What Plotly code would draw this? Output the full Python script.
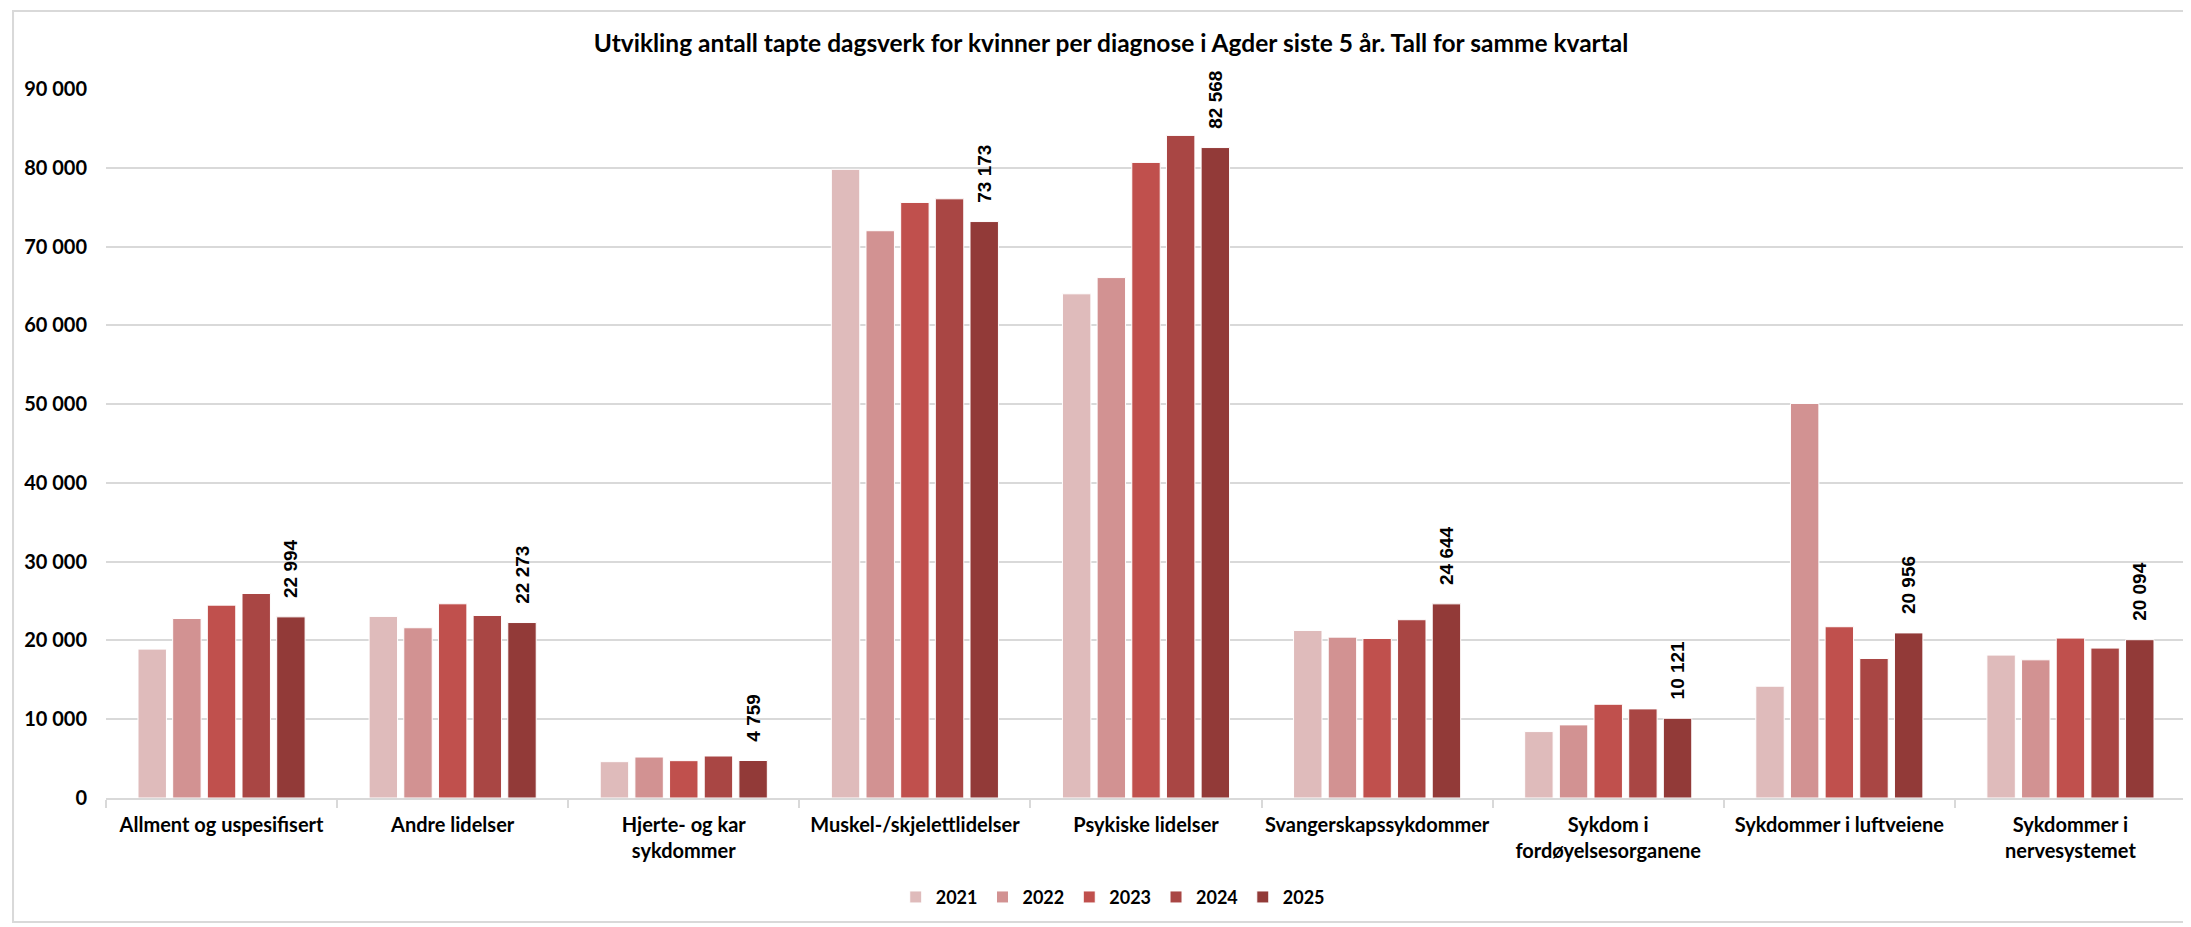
import plotly.graph_objects as go

# Categories (diagnoses) and years
categories = [
    'Allment og uspesifisert',
    'Andre lidelser',
    'Hjerte- og kar<br>sykdommer',
    'Muskel-/skjelettlidelser',
    'Psykiske lidelser',
    'Svangerskapssykdommer',
    'Sykdom i<br>fordøyelsesorganene',
    'Sykdommer i luftveiene',
    'Sykdommer i<br>nervesystemet',
]
years = ['2021', '2022', '2023', '2024', '2025']

# Lost work days per year
v2021 = [18900, 23050, 4610, 79800, 64000, 21270, 8430, 14190, 18140]
v2022 = [22790, 21610, 5200, 72010, 66060, 20420, 9280, 50080, 17540]
v2023 = [24480, 24650, 4740, 75600, 80680, 20250, 11900, 21740, 20300]
v2024 = [25960, 23170, 5330, 76060, 84110, 22630, 11310, 17710, 19030]
v2025 = [22994, 22273, 4759, 73173, 82568, 24644, 10121, 20956, 20094]

values = [v2021, v2022, v2023, v2024, v2025]
colors = ['#DFBBBB', '#D29292', '#C0504D', '#A94644', '#923A38']

font_main = 'Lato, Liberation Sans, sans-serif'

fig = go.Figure()
for year, vals, col in zip(years, values, colors):
    label_last = year == '2025'
    fig.add_trace(go.Bar(
        x=categories,
        y=vals,
        name=year,
        marker=dict(color=col, line=dict(color='white', width=1)),
        texttemplate='\u00a0\u00a0\u00a0%{y:,.0f}' if label_last else None,
        textposition='outside' if label_last else 'none',
        textangle=-90,
        constraintext='none',
        cliponaxis=False,
        textfont=dict(family='Liberation Sans, Arial, sans-serif', size=19,
                      color='black', weight='bold'),
        hoverinfo='x+y+name',
    ))

# page body has an 8px margin, so the figure is a bit smaller than the window
fig.update_layout(
    width=2183, height=919,
    separators=', ',
    paper_bgcolor='white',
    plot_bgcolor='white',
    barmode='group',
    bargap=0.25,
    bargroupgap=0.18,
    margin=dict(l=98, r=5, t=81, b=129, autoexpand=False),
    font=dict(family=font_main, color='black'),
    title=dict(
        text='Utvikling antall tapte dagsverk for kvinner per diagnose i Agder siste 5 år. Tall for samme kvartal',
        x=0.5053, xref='container', xanchor='center',
        y=1 - 35 / 919, yref='container', yanchor='middle',
        font=dict(size=24.5, weight='bold', color='black', family=font_main),
    ),
    legend=dict(
        orientation='h',
        x=0.484, xanchor='center',
        y=-0.14, yanchor='middle',
        itemwidth=30,
        font=dict(size=18, weight='bold', family=font_main),
    ),
)

fig.update_yaxes(
    range=[0, 90000],
    tickvals=list(range(0, 90001, 10000)),
    tickformat=',.0f',
    showgrid=True, gridcolor='#D9D9D9', gridwidth=2,
    zeroline=False,
    showline=False,
    ticks='',
    ticklabelstandoff=18,
    tickfont=dict(size=20, weight='bold', family=font_main),
)

fig.update_xaxes(
    showline=True, linecolor='#D9D9D9', linewidth=2,
    ticks='outside', tickson='boundaries', ticklen=8,
    tickcolor='#D9D9D9', tickwidth=2,
    ticklabelstandoff=8,
    tickfont=dict(size=20, weight='bold', family=font_main),
    tickangle=0,
)

# light gray frame around the whole chart
fig.add_shape(
    type='rect', xref='paper', yref='paper',
    x0=-0.0447, x1=1.0014, y0=-0.175, y1=1.11,
    line=dict(color='#D9D9D9', width=2),
    fillcolor='rgba(0,0,0,0)', layer='below',
)

fig.write_html('out.html')
